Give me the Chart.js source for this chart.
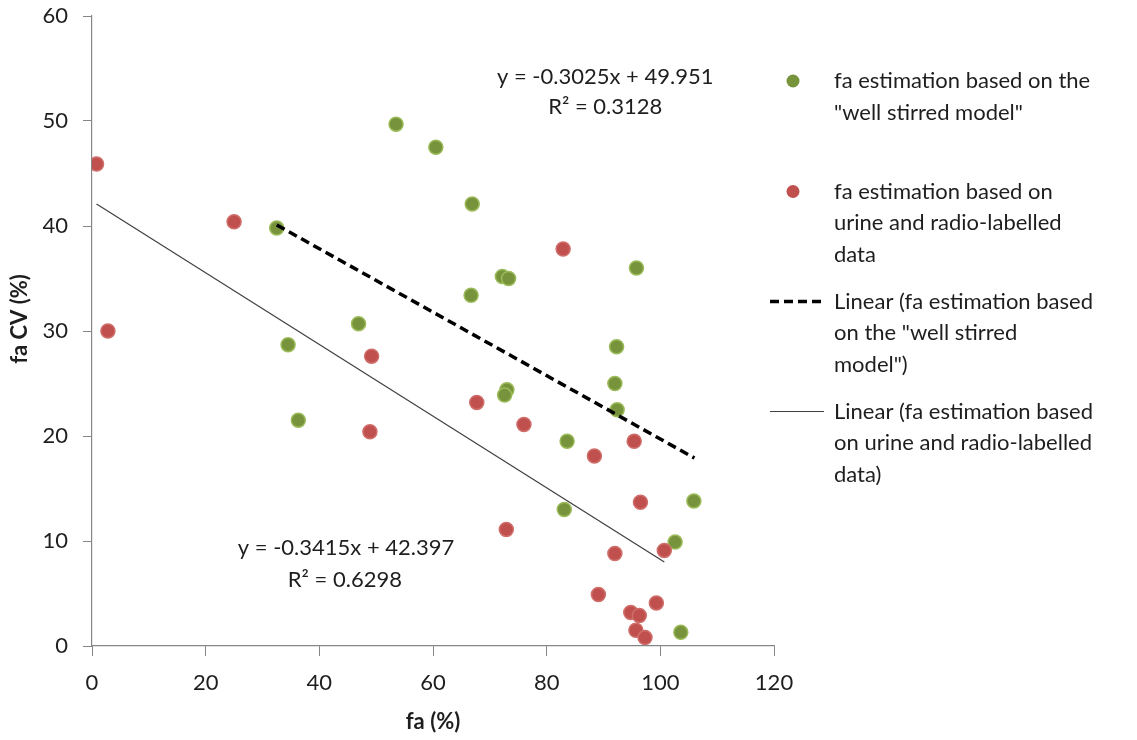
<!DOCTYPE html>
<html>
<head>
<meta charset="utf-8">
<script src="https://cdn.jsdelivr.net/npm/chart.js@4/dist/chart.umd.min.js"></script>
<style>
  html, body { margin: 0; padding: 0; background: #fff; }
  #wrap { width: 1137px; height: 740px; position: relative; }
</style>
</head>
<body>
<div id="wrap"><canvas id="chart" width="1137" height="740"></canvas></div>
<script>
// --- Data ---
const xTicks = [0, 20, 40, 60, 80, 100, 120];
const yTicks = [0, 10, 20, 30, 40, 50, 60];

// well stirred model (green)
const wsX = [32.5, 53.5, 60.5, 66.9, 72.2, 73.3, 66.7, 95.8, 46.9, 34.5, 36.3, 92.3, 92.0, 92.4, 73.0, 72.6, 83.6, 83.1, 105.9, 102.6, 103.6];
const wsY = [39.8, 49.7, 47.5, 42.1, 35.2, 35.0, 33.4, 36.0, 30.7, 28.7, 21.5, 28.5, 25.0, 22.5, 24.4, 23.9, 19.5, 13.0, 13.8, 9.9, 1.3];

// urine and radio-labelled data (red)
const urX = [0.8, 25.0, 2.8, 49.2, 48.9, 82.9, 67.7, 76.0, 95.4, 88.4, 96.5, 72.9, 92.0, 100.7, 89.1, 99.3, 94.8, 96.3, 95.7, 97.3];
const urY = [45.9, 40.4, 30.0, 27.6, 20.4, 37.8, 23.2, 21.1, 19.5, 18.1, 13.7, 11.1, 8.8, 9.1, 4.9, 4.1, 3.2, 2.9, 1.5, 0.8];

// trendline end points
const wsTrendX = [32.5, 106.0];
const wsTrendY = [40.1, 17.9];
const urTrendX = [0.8, 100.7];
const urTrendY = [42.1, 8.0];

const wsEq = ['y = -0.3025x + 49.951', 'R² = 0.3128'];
const urEq = ['y = -0.3415x + 42.397', 'R² = 0.6298'];

const legendItems = [
    { kind: 'dot', color: '#77933C', lines: ['fa estimation based on the', '"well stirred model"'] },
    { kind: 'dot', color: '#C0504D', lines: ['fa estimation based on', 'urine and radio-labelled', 'data'] },
    { kind: 'dash', color: '#000', lines: ['Linear (fa estimation based', 'on the "well stirred', 'model")'] },
    { kind: 'solid', color: '#404040', lines: ['Linear (fa estimation based', 'on urine and radio-labelled', 'data)'] }
];

const pts = (xs, ys) => xs.map((x, i) => ({ x: x, y: ys[i] }));

const FONT = 'Lato, "Open Sans", sans-serif';
const AXIS_COL = '#868686';
const TXT = '#1e1e1e';

// --- custom drawing: equations, axis titles, legend ---
const extras = {
    id: 'extras',
    afterDraw(chart) {
        const c = chart.ctx, xs = chart.scales.x, ys = chart.scales.y;
        c.save();
        c.fillStyle = TXT;
        c.font = '22px ' + FONT;
        c.textAlign = 'center';
        c.textBaseline = 'middle';
        // equations (placed in data coordinates)
        c.fillText(wsEq[0], xs.getPixelForValue(90.3), ys.getPixelForValue(54.2));
        c.fillText(wsEq[1], xs.getPixelForValue(90.3), ys.getPixelForValue(51.3));
        c.fillText(urEq[0], xs.getPixelForValue(44.7), ys.getPixelForValue(9.3));
        c.fillText(urEq[1], xs.getPixelForValue(44.5), ys.getPixelForValue(6.3));

        // axis titles
        c.font = 'bold 22px ' + FONT;
        c.fillText('fa (%)', (xs.left + xs.right) / 2, 722);
        c.translate(20, (ys.top + ys.bottom) / 2 - 12);
        c.rotate(-Math.PI / 2);
        c.fillText('fa CV (%)', 0, 0);
        c.restore();

        // legend
        c.save();
        c.font = '22px ' + FONT;
        c.textAlign = 'left';
        c.textBaseline = 'middle';
        const starts = [81, 191.5, 301.5, 411.5];
        const lh = 31.7;
        legendItems.forEach((it, i) => {
            const y0 = starts[i];
            if (it.kind === 'dot') {
                c.beginPath();
                c.arc(793, y0, 6.5, 0, Math.PI * 2);
                c.fillStyle = it.color;
                c.fill();
            } else {
                c.beginPath();
                c.strokeStyle = it.color;
                c.lineWidth = it.kind === 'dash' ? 3.5 : 1.2;
                c.setLineDash(it.kind === 'dash' ? [9, 5] : []);
                c.moveTo(770, y0);
                c.lineTo(824, y0);
                c.stroke();
                c.setLineDash([]);
            }
            c.fillStyle = TXT;
            it.lines.forEach((t, j) => c.fillText(t, 834, y0 + j * lh));
        });
        c.restore();
    }
};

new Chart(document.getElementById('chart').getContext('2d'), {
    type: 'scatter',
    data: {
        datasets: [
            { label: 'ws', data: pts(wsX, wsY), order: 2,
              backgroundColor: '#77933C', borderColor: '#9BBB59', borderWidth: 1.5, pointRadius: 7 },
            { label: 'ur', data: pts(urX, urY), order: 1,
              backgroundColor: '#C0504D', borderColor: '#CF6E6B', borderWidth: 1.5, pointRadius: 7 },
            { label: 'wsTrend', data: pts(wsTrendX, wsTrendY), order: 0, showLine: true,
              borderColor: '#000', borderWidth: 3.5, borderDash: [9, 5], pointRadius: 0 },
            { label: 'urTrend', data: pts(urTrendX, urTrendY), order: 0, showLine: true,
              borderColor: '#404040', borderWidth: 1.2, pointRadius: 0 }
        ]
    },
    options: {
        responsive: false,
        animation: false,
        layout: { padding: { left: 0, top: 16, right: 363, bottom: 0 } },
        plugins: { legend: { display: false }, tooltip: { enabled: false } },
        scales: {
            x: {
                type: 'linear', min: 0, max: 120,
                afterBuildTicks: s => { s.ticks = xTicks.map(v => ({ value: v })); },
                afterFit: s => { s.height = 94; s.paddingLeft = 0; s.paddingRight = 0; },
                border: { color: AXIS_COL, width: 1.2 },
                grid: { drawOnChartArea: false, drawTicks: true, tickLength: 10, color: AXIS_COL },
                ticks: { color: TXT, padding: 14, font: { family: FONT, size: 22 } }
            },
            y: {
                type: 'linear', min: 0, max: 60,
                afterBuildTicks: s => { s.ticks = yTicks.map(v => ({ value: v })); },
                afterFit: s => { s.width = 92; s.paddingTop = 0; s.paddingBottom = 0; },
                border: { color: AXIS_COL, width: 1.2 },
                grid: { drawOnChartArea: false, drawTicks: true, tickLength: 9, color: AXIS_COL },
                ticks: { color: TXT, padding: 15, font: { family: FONT, size: 22 } }
            }
        }
    },
    plugins: [extras]
});
</script>
</body>
</html>
